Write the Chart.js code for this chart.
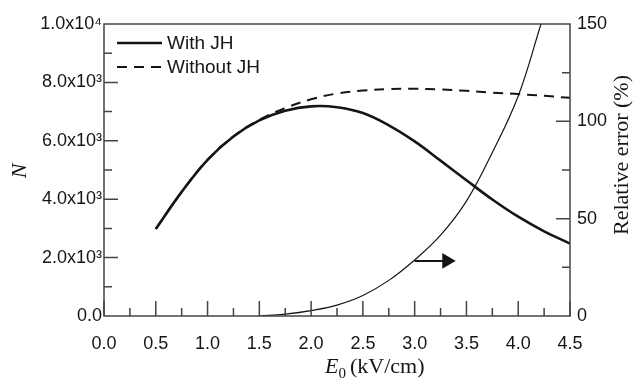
<!DOCTYPE html>
<html>
<head>
<meta charset="utf-8">
<script src="https://cdn.jsdelivr.net/npm/chart.js@4"></script>
<style>
  body { margin: 0; background: #fff; }
  #wrap { width: 633px; height: 385px; }
</style>
</head>
<body>
<div id="wrap"><canvas id="grafico"></canvas></div>
<script>
// dados
const e0Values = [0.5, 0.75, 1.0, 1.25, 1.5, 1.75, 2.0, 2.25, 2.5, 2.75, 3.0, 3.25, 3.5, 3.75, 4.0, 4.25, 4.5];
const nWithJH = [2980, 4250, 5350, 6150, 6700, 7030, 7180, 7150, 6950, 6530, 5980, 5320, 4650, 3990, 3400, 2900, 2480];
const nWithoutJH = [2980, 4250, 5350, 6150, 6720, 7120, 7420, 7620, 7720, 7770, 7780, 7760, 7710, 7650, 7600, 7540, 7470];

const errE0 = [1.5, 1.75, 2.0, 2.25, 2.5, 2.75, 3.0, 3.25, 3.5, 3.75, 4.0, 4.22];
const relError = [0, 1.0, 2.8, 5.6, 10.5, 18.3, 28.8, 41.5, 59, 84, 113, 150];

// seta apontando para o eixo da direita
const arrowE0 = [3.0, 3.31];
const arrowErr = [28.3, 28.3];

const xTickLabels = ['0.0', '0.5', '1.0', '1.5', '2.0', '2.5', '3.0', '3.5', '4.0', '4.5'];
const yTickLabels = ['0.0', '2.0x10³', '4.0x10³', '6.0x10³', '8.0x10³', '1.0x10⁴'];
const y1TickLabels = ['0', '50', '100', '150'];

const legendLabels = ['With JH', 'Without JH'];

const sans = '"Liberation Sans", Arial, sans-serif';
const serif = '"Liberation Serif", "Times New Roman", serif';
const ink = '#151515';
const axisColor = '#444';

function pares(xs, ys) {
  return xs.map((x, i) => ({ x: x, y: ys[i] }));
}

// moldura, marcas internas, títulos e legenda
const moldura = {
  id: 'moldura',
  afterDatasetsDraw(chart) {
    const ctx = chart.ctx;
    const a = chart.chartArea;
    const sx = chart.scales.x, sy = chart.scales.y, sy1 = chart.scales.y1;
    ctx.save();
    ctx.strokeStyle = axisColor;
    ctx.lineWidth = 1.5;
    ctx.strokeRect(a.left, a.top, a.right - a.left, a.bottom - a.top);

    ctx.beginPath();
    for (let v = 0; v <= 4.5001; v += 0.25) {
      const px = sx.getPixelForValue(v);
      const len = Math.abs(v / 0.5 - Math.round(v / 0.5)) < 0.01 ? 15 : 8;
      ctx.moveTo(px, a.bottom);
      ctx.lineTo(px, a.bottom - len);
    }
    for (let v = 1000; v < 10000; v += 1000) {
      const py = sy.getPixelForValue(v);
      const len = v % 2000 === 0 ? 14 : 8;
      ctx.moveTo(a.left, py);
      ctx.lineTo(a.left + len, py);
    }
    for (let v = 25; v < 150; v += 25) {
      const py = sy1.getPixelForValue(v);
      const len = v % 50 === 0 ? 14 : 8;
      ctx.moveTo(a.right, py);
      ctx.lineTo(a.right - len, py);
    }
    ctx.stroke();
    ctx.restore();
  },
  afterDraw(chart) {
    const ctx = chart.ctx;
    ctx.save();
    ctx.fillStyle = ink;

    // eixo y esquerdo
    ctx.save();
    ctx.translate(20, 171);
    ctx.rotate(-Math.PI / 2);
    ctx.font = 'italic 22px ' + serif;
    ctx.textAlign = 'center';
    ctx.textBaseline = 'middle';
    ctx.fillText('N', 0, 0);
    ctx.restore();

    // eixo y direito
    ctx.save();
    ctx.translate(622, 155);
    ctx.rotate(-Math.PI / 2);
    ctx.font = '22px ' + serif;
    ctx.textAlign = 'center';
    ctx.textBaseline = 'middle';
    ctx.fillText('Relative error (%)', 0, 0);
    ctx.restore();

    // eixo x: E0 (kV/cm)
    ctx.textBaseline = 'alphabetic';
    ctx.textAlign = 'left';
    let x = 325;
    const base = 373;
    ctx.font = 'italic 22px ' + serif;
    ctx.fillText('E', x, base);
    x += ctx.measureText('E').width;
    ctx.font = '15px ' + serif;
    ctx.fillText('0', x, base + 5);
    x += ctx.measureText('0').width + 4;
    ctx.font = '22px ' + serif;
    ctx.fillText('(kV/cm)', x, base);

    // legenda
    ctx.font = '19px ' + sans;
    ctx.textBaseline = 'middle';
    ctx.strokeStyle = ink;
    ctx.lineWidth = 2.5;
    ctx.beginPath();
    ctx.moveTo(117, 43);
    ctx.lineTo(162, 43);
    ctx.stroke();
    ctx.fillText(legendLabels[0], 167, 44);
    ctx.lineWidth = 2;
    ctx.setLineDash([10, 7]);
    ctx.beginPath();
    ctx.moveTo(117, 67);
    ctx.lineTo(162, 67);
    ctx.stroke();
    ctx.setLineDash([]);
    ctx.fillText(legendLabels[1], 167, 68);
    ctx.restore();
  }
};

const ctx = document.getElementById('grafico').getContext('2d');
new Chart(ctx, {
  type: 'line',
  data: {
    datasets: [
      {
        label: legendLabels[0],
        data: pares(e0Values, nWithJH),
        yAxisID: 'y',
        borderColor: ink,
        borderWidth: 2.6,
        pointRadius: 0,
        tension: 0.4,
        order: 1
      },
      {
        label: legendLabels[1],
        data: pares(e0Values, nWithoutJH),
        yAxisID: 'y',
        borderColor: ink,
        borderWidth: 2,
        borderDash: [10, 7],
        pointRadius: 0,
        tension: 0.4,
        order: 2
      },
      {
        label: 'Relative error',
        data: pares(errE0, relError),
        yAxisID: 'y1',
        borderColor: ink,
        borderWidth: 1.2,
        pointRadius: 0,
        tension: 0.4,
        order: 3
      },
      {
        label: 'arrow',
        data: pares(arrowE0, arrowErr),
        yAxisID: 'y1',
        borderColor: ink,
        backgroundColor: ink,
        borderWidth: 2,
        pointRadius: [0, 7],
        pointStyle: 'triangle',
        pointRotation: 90,
        order: 0
      }
    ]
  },
  options: {
    responsive: true,
    maintainAspectRatio: false,
    animation: false,
    layout: { padding: { top: 24, left: 0, right: 0, bottom: 0 } },
    plugins: {
      legend: { display: false },
      tooltip: { enabled: false }
    },
    scales: {
      x: {
        type: 'linear',
        min: 0,
        max: 4.5,
        grid: { display: false, drawTicks: false },
        border: { display: false },
        ticks: {
          stepSize: 0.5,
          autoSkip: false,
          maxRotation: 0,
          padding: 17,
          color: ink,
          font: { family: sans, size: 18 },
          callback: (v, i) => xTickLabels[i]
        },
        afterFit: s => { s.height = 69; }
      },
      y: {
        position: 'left',
        min: 0,
        max: 10000,
        grid: { display: false, drawTicks: false },
        border: { display: false },
        ticks: {
          stepSize: 2000,
          padding: 2,
          color: ink,
          font: { family: sans, size: 18 },
          callback: (v, i) => yTickLabels[i]
        },
        afterFit: s => { s.width = 104; }
      },
      y1: {
        position: 'right',
        min: 0,
        max: 150,
        grid: { display: false, drawTicks: false },
        border: { display: false },
        ticks: {
          stepSize: 50,
          padding: 7,
          color: ink,
          font: { family: sans, size: 18 },
          callback: (v, i) => y1TickLabels[i]
        },
        afterFit: s => { s.width = 63; }
      }
    }
  },
  plugins: [moldura]
});
</script>
</body>
</html>
